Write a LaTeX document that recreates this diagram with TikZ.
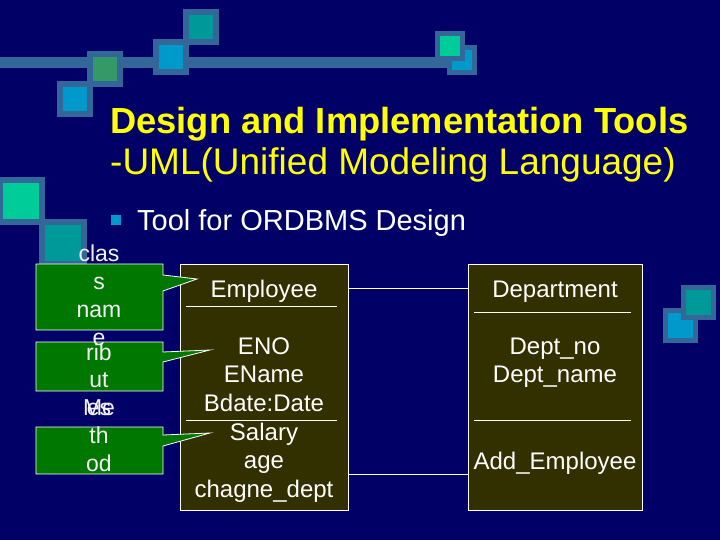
\documentclass[tikz,border=0pt]{standalone}
\usepackage{fontspec}
\setmainfont{Liberation Sans}
\definecolor{bg}{RGB}{0,0,102}
\definecolor{sqborder}{RGB}{51,102,153}
\definecolor{sqcyan}{RGB}{0,153,204}
\definecolor{sqgreen}{RGB}{51,153,102}
\definecolor{sqteal}{RGB}{0,153,153}
\definecolor{sqmint}{RGB}{0,204,153}
\definecolor{boxfill}{RGB}{51,48,0}
\definecolor{callgreen}{RGB}{0,120,0}
\definecolor{titleyellow}{RGB}{255,255,0}
\begin{document}
\begin{tikzpicture}[x=1pt,y=-1pt,
  classbox/.style={draw=white, line width=0.8pt, fill=boxfill, inner sep=0pt},
  sepline/.style={draw=white, line width=0.7pt},
  conn/.style={draw=white, line width=0.8pt},
  callout/.style={draw=white, line width=0.8pt, fill=callgreen},
  boxtext/.style={text=white, anchor=base, inner sep=0pt, font=\fontsize{24}{28}\selectfont},
  calltext/.style={text=white!90!gray, anchor=base, inner sep=0pt, font=\fontsize{23}{26}\selectfont}]
\useasboundingbox (0,0) rectangle (720,540);
\fill[bg] (0,0) rectangle (720,540);
% decorative bar and squares
\fill[sqborder] (0,57) rectangle (450,68);
\foreach \x/\y/\s/\b/\c in {57/81/36/6/sqcyan, 87/51/36/6/sqgreen, 153/39/36/6/sqcyan, 183/9/36/6/sqteal,
  447/45/30/5/sqcyan, 435/31/30/5/sqmint, -3/177/48/6/sqmint, 39/219/48/6/sqteal,
  663/308/35/5/sqcyan, 681/285/35/5/sqteal}{
  \fill[sqborder] (\x,\y) rectangle ++(\s,\s);
  \fill[\c] (\x+\b,\y+\b) rectangle ++(\s-2*\b,\s-2*\b);
}
% title
\node[anchor=base west, inner sep=0pt, text=titleyellow, font=\fontsize{36.3}{40}\selectfont\bfseries] (title) at (110,134) {Design and Implementation Tools};
\node[anchor=base west, inner sep=0pt, text=titleyellow, font=\fontsize{37}{40}\selectfont] (subtitle) at (110,175) {-UML(Unified Modeling Language)};
% bullet
\fill[sqcyan] (111,215) rectangle (121,225);
\node[anchor=base west, inner sep=0pt, text=white, font=\fontsize{29}{32}\selectfont] (tool) at (137,230) {Tool for ORDBMS Design};
% class boxes
\node[classbox, minimum width=168pt, minimum height=246pt] (emp) at (264,387) {};
\node[classbox, minimum width=174pt, minimum height=246pt] (dep) at (555,387) {};
\draw[sepline] (186,306) -- (337,306);
\draw[sepline] (186,420) -- (337,420);
\draw[sepline] (474,312) -- (631,312);
\draw[sepline] (474,420) -- (631,420);
\node[boxtext] (e0) at (264,297) {Employee};
\node[boxtext] (e1) at (264,354) {ENO};
\node[boxtext] (e2) at (264,382) {EName};
\node[boxtext] (e3) at (264,411) {Bdate:Date};
\node[boxtext] (e4) at (264,440) {Salary};
\node[boxtext] (e5) at (264,468) {age};
\node[boxtext] (e6) at (264,497) {chagne\_dept};
\node[boxtext] (d0) at (555,297) {Department};
\node[boxtext] (d1) at (555,354) {Dept\_no};
\node[boxtext] (d2) at (555,382) {Dept\_name};
\node[boxtext] (d3) at (555,469) {Add\_Employee};
% connectors
\draw[conn] (emp.east |- 0,288) -- (dep.west |- 0,288);
\draw[conn] (emp.east |- 0,474) -- (dep.west |- 0,474);
% callouts (bottom first)
\draw[callout] (36,427) -- (163,427) -- (163,435) -- (210,433) -- (163,446) -- (163,474) -- (36,474) -- cycle;
\node[calltext] (m1) at (99,415) {Me};
\node[calltext] (m2) at (99,443) {th};
\node[calltext] (m3) at (99,471) {od};
\draw[callout] (36,342) -- (163,342) -- (163,352) -- (210,350) -- (163,362) -- (163,391) -- (36,391) -- cycle;
\node[calltext] (a2) at (99,360) {rib};
\node[calltext] (a3) at (99,387) {ut};
\node[calltext] (a4) at (99,415) {es};
\draw[callout] (36,264) -- (163,264) -- (163,275) -- (197,279) -- (163,291) -- (163,330) -- (36,330) -- cycle;
\node[calltext] (c1) at (99,261) {clas};
\node[calltext] (c2) at (99,289) {s};
\node[calltext] (c3) at (99,317) {nam};
\node[calltext] (c4) at (99,345) {e};
\end{tikzpicture}
\end{document}
